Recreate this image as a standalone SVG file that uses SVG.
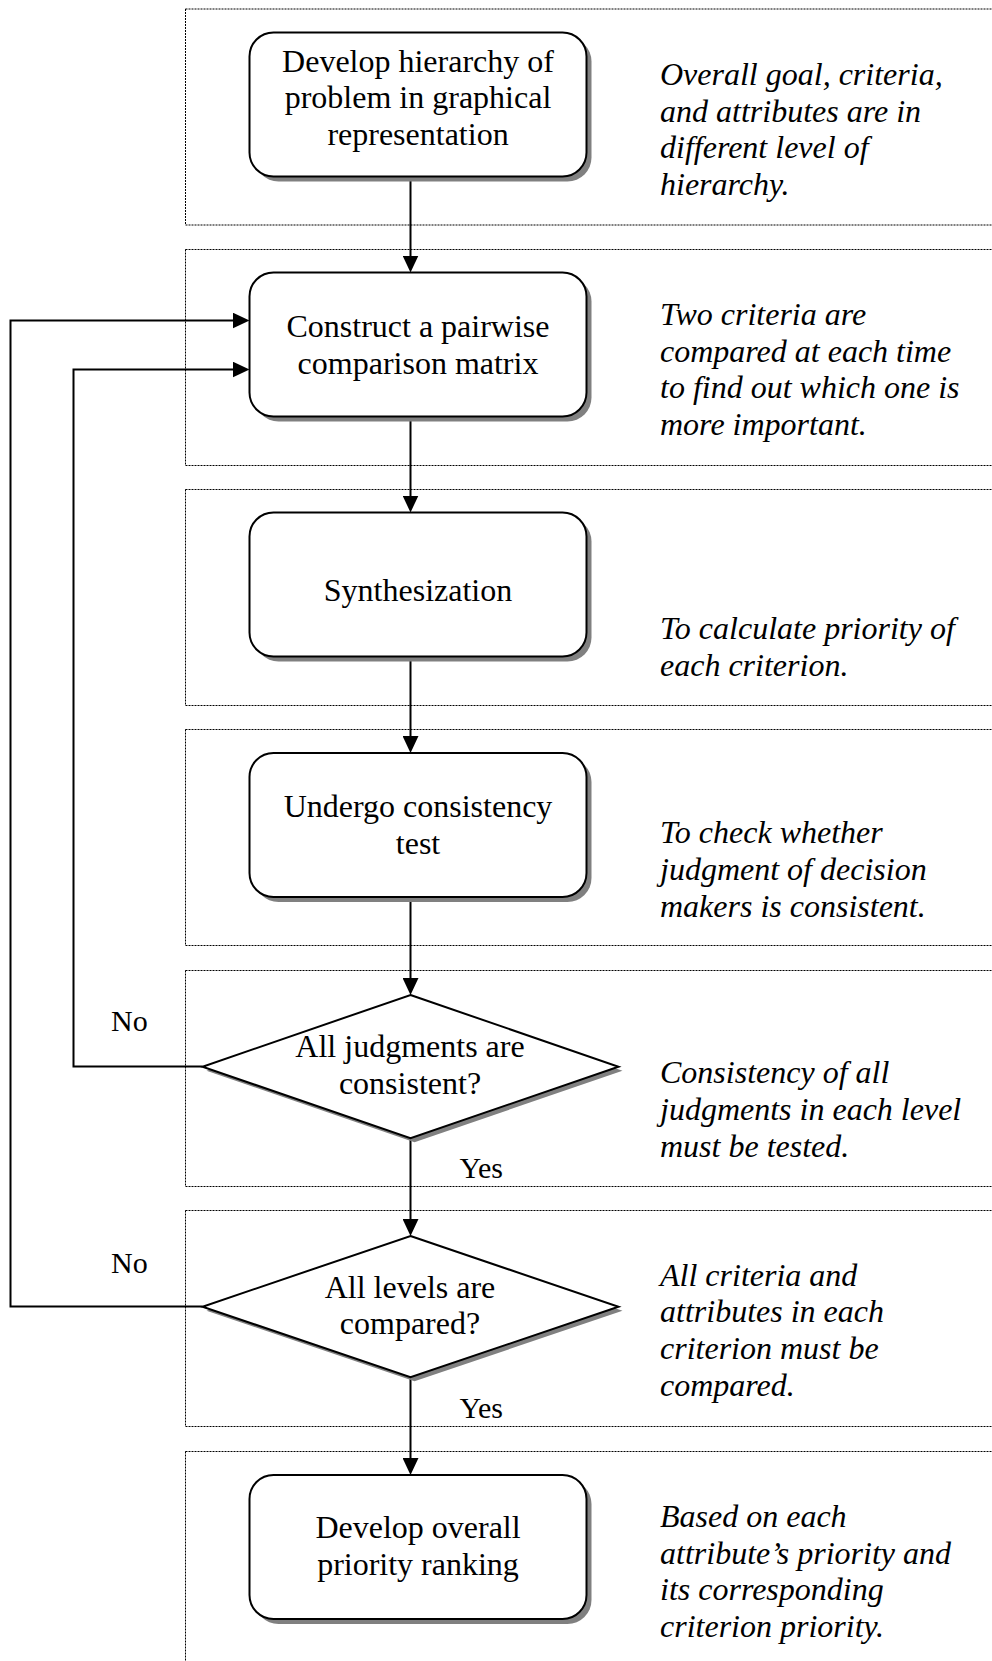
<svg xmlns="http://www.w3.org/2000/svg" width="992" height="1661" viewBox="0 0 992 1661">
  <style>
    .panel{fill:none;stroke:#000;stroke-width:1;stroke-dasharray:2 1}
    .box{fill:#fff;stroke:#000;stroke-width:2}
    .shadow{fill:#808080}
    .t{font-family:"Liberation Serif","Times New Roman",serif;font-size:32px;fill:#000}
    .c{text-anchor:middle}
    .note{font-style:italic}
    .lbl{font-size:30px}
    .edge{fill:none;stroke:#000;stroke-width:2}
  </style>
  <defs>
    <marker id="arrow" markerUnits="userSpaceOnUse" markerWidth="17" markerHeight="16" viewBox="0 0 17 16" refX="7" refY="8" orient="auto">
      <path d="M0,0 L17,8 L0,16 Z" fill="#000"/>
    </marker>
  </defs>
  <rect width="992" height="1661" fill="#fff"/>

  <!-- dotted stage panels -->
  <g id="panels">
    <rect class="panel" x="185.5" y="9" width="820" height="216"/>
    <rect class="panel" x="185.5" y="249.5" width="820" height="216"/>
    <rect class="panel" x="185.5" y="489.5" width="820" height="216"/>
    <rect class="panel" x="185.5" y="729.5" width="820" height="216"/>
    <rect class="panel" x="185.5" y="970.5" width="820" height="216"/>
    <rect class="panel" x="185.5" y="1210.5" width="820" height="216"/>
    <rect class="panel" x="185.5" y="1451.5" width="820" height="216"/>
  </g>

  <!-- connectors -->
  <g id="connectors">
    <path class="edge" d="M410.5,176 V262.5" marker-end="url(#arrow)"/>
    <path class="edge" d="M410.5,416.5 V502.5" marker-end="url(#arrow)"/>
    <path class="edge" d="M410.5,656.5 V743" marker-end="url(#arrow)"/>
    <path class="edge" d="M410.5,896.5 V985" marker-end="url(#arrow)"/>
    <path class="edge" d="M410.5,1138.5 V1226" marker-end="url(#arrow)"/>
    <path class="edge" d="M410.5,1377.5 V1465" marker-end="url(#arrow)"/>
    <path class="edge" d="M202.5,1066.5 H73.5 V369.5 H239.5" marker-end="url(#arrow)"/>
    <path class="edge" d="M202.5,1306.5 H10.5 V320.5 H239.5" marker-end="url(#arrow)"/>
    <text class="t lbl" x="111" y="1030.7">No</text>
    <text class="t lbl" x="459.4" y="1178.3">Yes</text>
    <text class="t lbl" x="111" y="1272.7">No</text>
    <text class="t lbl" x="459.4" y="1418.3">Yes</text>
  </g>

  <g id="hierarchy">
    <rect class="shadow" x="254.5" y="37.5" width="337" height="144" rx="24"/>
    <rect class="box" x="249.5" y="32.5" width="337" height="144" rx="24"/>
    <text class="t c" x="418" y="71.7">Develop hierarchy of</text>
    <text class="t c" x="418" y="108.3">problem in graphical</text>
    <text class="t c" x="418" y="145">representation</text>
  </g>
  <g id="note-hierarchy">
    <text class="t note" x="660" y="85">Overall goal, criteria,</text>
    <text class="t note" x="660" y="121.7">and attributes are in</text>
    <text class="t note" x="660" y="158.3">different level of</text>
    <text class="t note" x="660" y="195">hierarchy.</text>
  </g>

  <g id="pairwise">
    <rect class="shadow" x="254.5" y="277.5" width="337" height="144" rx="24"/>
    <rect class="box" x="249.5" y="272.5" width="337" height="144" rx="24"/>
    <text class="t c" x="418" y="337">Construct a pairwise</text>
    <text class="t c" x="418" y="373.7">comparison matrix</text>
  </g>
  <g id="note-pairwise">
    <text class="t note" x="660" y="325">Two criteria are</text>
    <text class="t note" x="660" y="361.7">compared at each time</text>
    <text class="t note" x="660" y="398.3">to find out which one is</text>
    <text class="t note" x="660" y="435">more important.</text>
  </g>

  <g id="synthesization">
    <rect class="shadow" x="254.5" y="517.5" width="337" height="144" rx="24"/>
    <rect class="box" x="249.5" y="512.5" width="337" height="144" rx="24"/>
    <text class="t c" x="418" y="600.7">Synthesization</text>
  </g>
  <g id="note-synthesization">
    <text class="t note" x="660" y="639.3">To calculate priority of</text>
    <text class="t note" x="660" y="676">each criterion.</text>
  </g>

  <g id="consistency-test">
    <rect class="shadow" x="254.5" y="758" width="337" height="144" rx="24"/>
    <rect class="box" x="249.5" y="753" width="337" height="144" rx="24"/>
    <text class="t c" x="418" y="817.3">Undergo consistency</text>
    <text class="t c" x="418" y="854">test</text>
  </g>
  <g id="note-consistency-test">
    <text class="t note" x="660" y="843.3">To check whether</text>
    <text class="t note" x="660" y="880">judgment of decision</text>
    <text class="t note" x="660" y="916.7">makers is consistent.</text>
  </g>

  <g id="judgments-decision">
    <polygon class="shadow" points="414.5,999 622.5,1070.7 414.5,1142.3 206.5,1070.7"/>
    <polygon class="box" points="410.5,995 618.5,1066.7 410.5,1138.3 202.5,1066.7"/>
    <text class="t c" x="410" y="1057.3">All judgments are</text>
    <text class="t c" x="410" y="1094">consistent?</text>
  </g>
  <g id="note-judgments">
    <text class="t note" x="660" y="1083.3">Consistency of all</text>
    <text class="t note" x="660" y="1120">judgments in each level</text>
    <text class="t note" x="660" y="1156.7">must be tested.</text>
  </g>

  <g id="levels-decision">
    <polygon class="shadow" points="414.5,1240 622.5,1310.7 414.5,1381.3 206.5,1310.7"/>
    <polygon class="box" points="410.5,1236 618.5,1306.7 410.5,1377.3 202.5,1306.7"/>
    <text class="t c" x="410" y="1298.3">All levels are</text>
    <text class="t c" x="410" y="1334.3">compared?</text>
  </g>
  <g id="note-levels">
    <text class="t note" x="660" y="1285.7">All criteria and</text>
    <text class="t note" x="660" y="1322.3">attributes in each</text>
    <text class="t note" x="660" y="1359">criterion must be</text>
    <text class="t note" x="660" y="1395.7">compared.</text>
  </g>

  <g id="ranking">
    <rect class="shadow" x="254.5" y="1480" width="337" height="144" rx="24"/>
    <rect class="box" x="249.5" y="1475" width="337" height="144" rx="24"/>
    <text class="t c" x="418" y="1538.3">Develop overall</text>
    <text class="t c" x="418" y="1575">priority ranking</text>
  </g>
  <g id="note-ranking">
    <text class="t note" x="660" y="1527">Based on each</text>
    <text class="t note" x="660" y="1563.7">attribute’s priority and</text>
    <text class="t note" x="660" y="1600.3">its corresponding</text>
    <text class="t note" x="660" y="1637">criterion priority.</text>
  </g>
</svg>
